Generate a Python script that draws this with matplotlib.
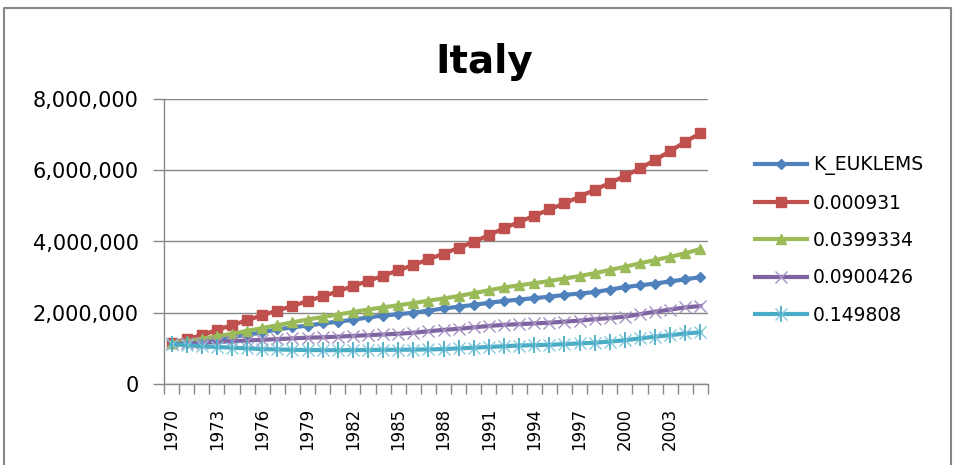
import matplotlib
matplotlib.use("Agg")
import matplotlib.pyplot as plt
from matplotlib.ticker import FuncFormatter, FixedLocator
from matplotlib.lines import Line2D
from matplotlib.legend_handler import HandlerTuple

years = list(range(1970, 2006))
series_names = ["K_EUKLEMS", "0.000931", "0.0399334", "0.0900426", "0.149808"]

k_euklems = [1120000, 1150000, 1200000, 1260000, 1320000, 1380000, 1450000, 1530000, 1590000,
             1640000, 1700000, 1750000, 1800000, 1870000, 1920000, 1960000, 2000000, 2060000,
             2120000, 2170000, 2220000, 2280000, 2330000, 2370000, 2410000, 2450000, 2500000,
             2540000, 2580000, 2650000, 2720000, 2770000, 2820000, 2880000, 2940000, 3000000]
s_000931 = [1140000, 1260000, 1370000, 1520000, 1650000, 1790000, 1930000, 2060000, 2190000,
            2330000, 2460000, 2600000, 2750000, 2890000, 3040000, 3190000, 3340000, 3500000,
            3660000, 3820000, 3990000, 4180000, 4370000, 4550000, 4720000, 4900000, 5070000,
            5260000, 5450000, 5640000, 5840000, 6050000, 6290000, 6540000, 6800000, 7040000]
s_0399334 = [1140000, 1200000, 1270000, 1340000, 1410000, 1490000, 1570000, 1650000, 1730000,
             1810000, 1880000, 1950000, 2020000, 2090000, 2150000, 2210000, 2270000, 2340000,
             2400000, 2470000, 2550000, 2630000, 2710000, 2770000, 2830000, 2890000, 2960000,
             3030000, 3110000, 3200000, 3290000, 3390000, 3480000, 3570000, 3670000, 3790000]
s_0900426 = [1120000, 1140000, 1160000, 1180000, 1200000, 1220000, 1240000, 1260000, 1280000,
             1300000, 1310000, 1330000, 1350000, 1370000, 1390000, 1410000, 1440000, 1480000,
             1520000, 1550000, 1590000, 1630000, 1660000, 1680000, 1700000, 1720000, 1750000,
             1780000, 1820000, 1850000, 1890000, 1960000, 2030000, 2090000, 2150000, 2190000]
s_149808 = [1120000, 1090000, 1060000, 1040000, 1020000, 1000000, 980000, 970000, 960000,
            955000, 950000, 950000, 950000, 955000, 960000, 960000, 965000, 970000,
            980000, 1000000, 1020000, 1040000, 1060000, 1080000, 1090000, 1100000, 1120000,
            1140000, 1160000, 1190000, 1230000, 1280000, 1330000, 1370000, 1420000, 1450000]

y_ticks = [0, 2000000, 4000000, 6000000, 8000000]
label_years = years[::3]

colors = ["#4F81BD", "#C0504D", "#9BBB59", "#8064A2", "#4BACC6"]

W, H = 956, 465
fig = plt.figure(figsize=(W / 100, H / 100), dpi=100)
fig.patch.set_facecolor("white")

left, right, top, bottom = 164, 708, 99, 384
ax = fig.add_axes([left / W, (H - bottom) / H, (right - left) / W, (bottom - top) / H])

x = list(range(len(years)))
lw = 3.0
ax.plot(x, k_euklems, color=colors[0], lw=lw, marker="D", ms=5.5, mec=colors[0], label=series_names[0], zorder=3)
ax.plot(x, s_000931, color=colors[1], lw=lw, marker="s", ms=7.5, mec=colors[1], label=series_names[1], zorder=4)
ax.plot(x, s_0399334, color=colors[2], lw=lw, marker="^", ms=7.5, mec=colors[2], label=series_names[2], zorder=5)
ax.plot(x, s_0900426, color=colors[3], lw=lw, marker="x", ms=9, mew=1.0, mec="#A592C0", label=series_names[3], zorder=6)
ax.plot(x, s_149808, color=colors[4], lw=lw, marker="x", ms=9, mew=1.0, mec="#86CBDD", zorder=7)
ax.plot(x, s_149808, color=colors[4], lw=0, marker="|", ms=12, mew=1.3, mec=colors[4], zorder=7)

handles, labels = ax.get_legend_handles_labels()
star = (Line2D([], [], color=colors[4], lw=lw),
        Line2D([], [], lw=0, marker="x", ms=9, mew=1.0, mec="#86CBDD"),
        Line2D([], [], lw=0, marker="|", ms=12, mew=1.3, mec=colors[4]))
handles.append(star)
labels.append(series_names[4])
leg = fig.legend(handles, labels, loc="center left", bbox_to_anchor=(738 / W, (H - 240) / H),
                 frameon=False, fontsize=13.5, handlelength=2.8, handletextpad=0.3,
                 labelspacing=0.98, handler_map={tuple: HandlerTuple(ndivide=1, pad=0)})

ax.set_xlim(-0.5, len(years) - 0.5)
ax.set_ylim(0, 8000000)
ax.set_yticks(y_ticks)
ax.yaxis.set_major_formatter(FuncFormatter(lambda v, p: f"{int(v):,}"))
ax.tick_params(axis="y", length=8, width=1, color="#868686", pad=10, labelsize=15)
ax.grid(axis="y", color="#868686", lw=1)
ax.set_axisbelow(True)

ax.xaxis.set_major_locator(FixedLocator([i - 0.5 for i in range(len(years) + 1)]))
ax.xaxis.set_major_formatter(FuncFormatter(lambda v, p: ""))
ax.xaxis.set_minor_locator(FixedLocator([years.index(yv) for yv in label_years]))
ax.xaxis.set_minor_formatter(FuncFormatter(lambda v, p: str(years[int(round(v))])))
ax.tick_params(axis="x", which="major", length=7, width=1, color="#868686")
ax.tick_params(axis="x", which="minor", length=0, pad=17, labelsize=12, labelrotation=90)

for s in ["top", "right"]:
    ax.spines[s].set_visible(False)
for s in ["left", "bottom"]:
    ax.spines[s].set_color("#868686")
    ax.spines[s].set_linewidth(1)

fig.text(484 / W, (H - 62) / H, "Italy", ha="center", va="center", fontsize=28, fontweight="bold")

frame_x = [4 / W, 4 / W, 951 / W, 951 / W]
frame_y = [0, (H - 8) / H, (H - 8) / H, 0]
fig.add_artist(Line2D(frame_x, frame_y, transform=fig.transFigure, color="#868686", lw=1.5))

fig.savefig("out.png", dpi=100)
